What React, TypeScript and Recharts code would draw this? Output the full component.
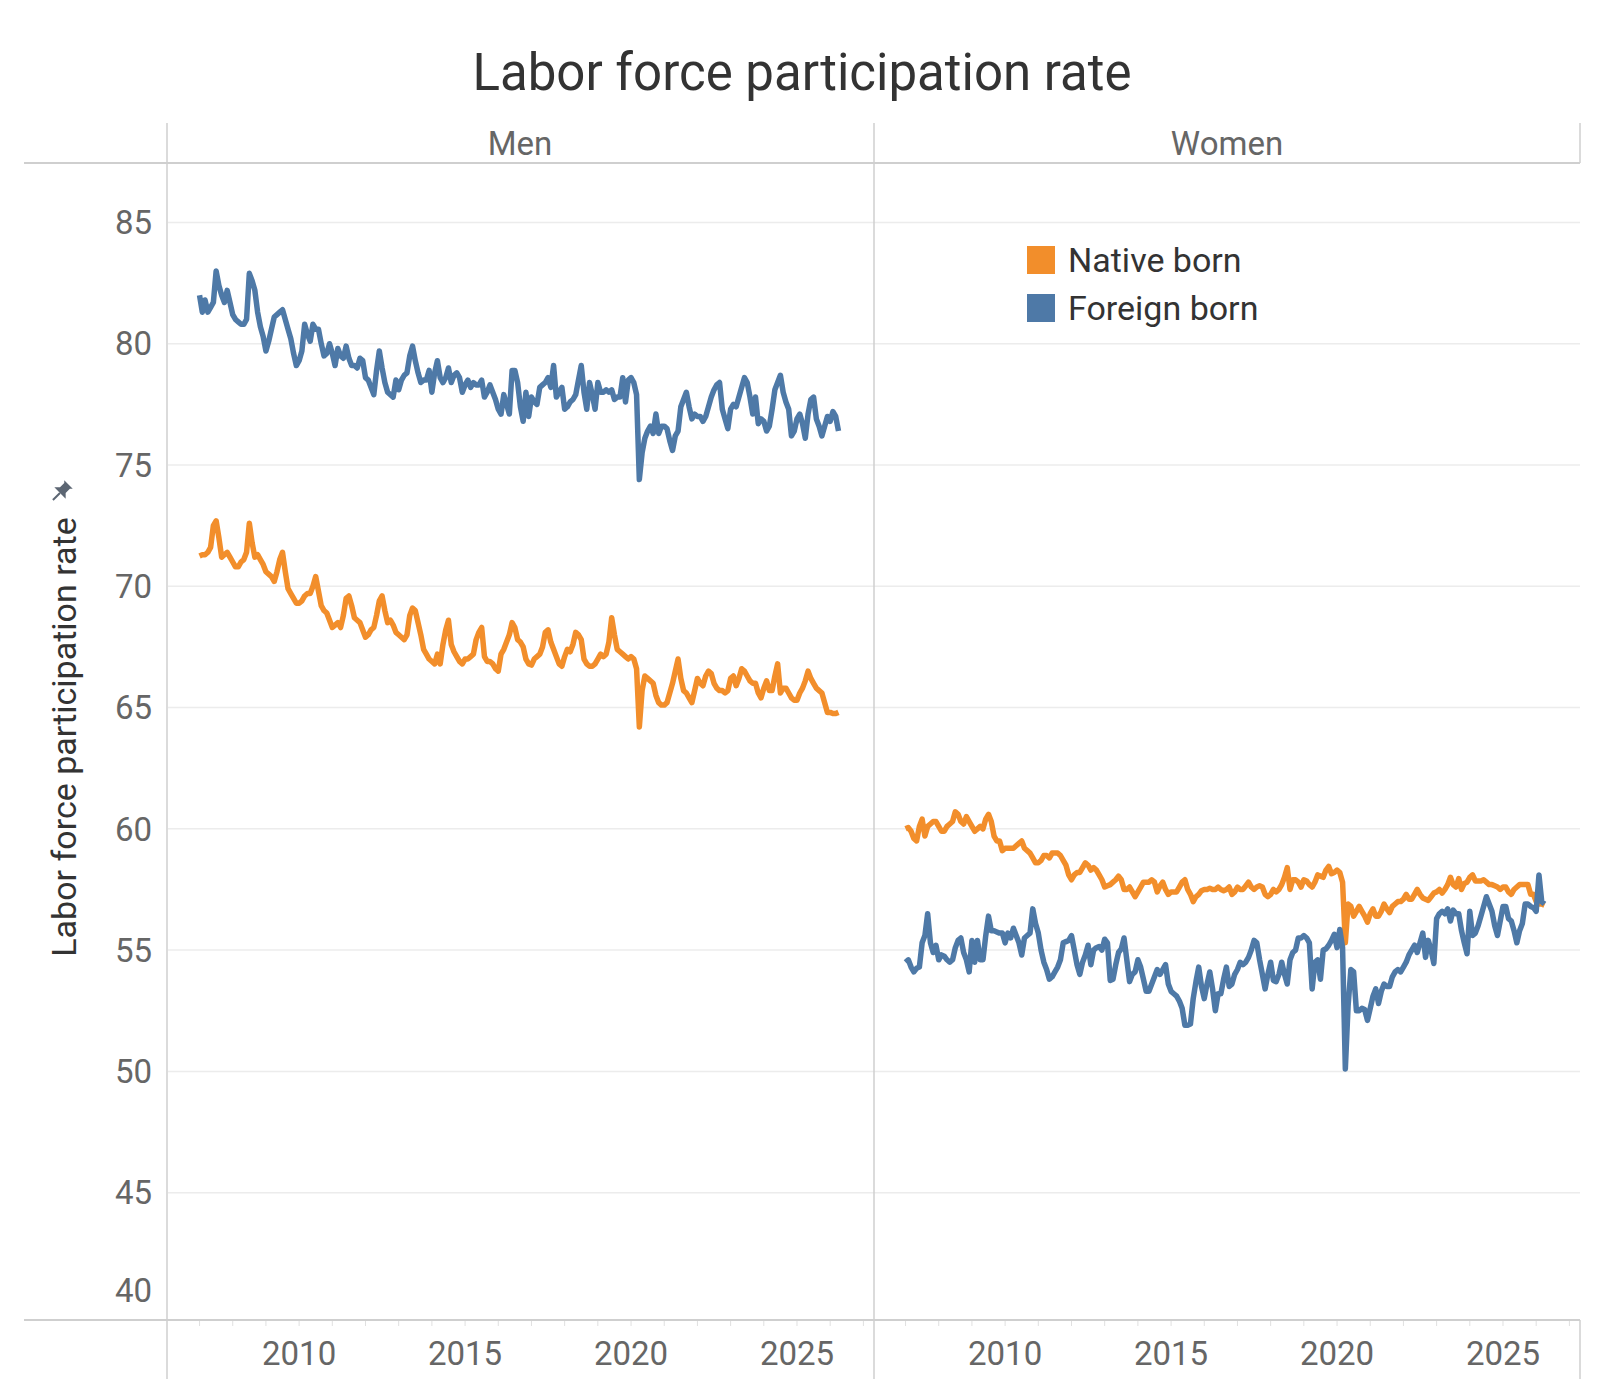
import React from 'react';
import { LineChart, Line, XAxis, YAxis, ReferenceLine } from 'recharts';

// monthly values, Jan 2007 .. Apr 2026
const START_YEAR = 2007;

const menNative = [
  71.25, 71.3, 71.3, 71.4, 71.6, 72.5, 72.7, 72.0, 71.2, 71.3, 71.4, 71.2,
  71.0, 70.8, 70.8, 71.0, 71.1, 71.4, 72.6, 71.8, 71.2, 71.3, 71.1, 70.9,
  70.6, 70.5, 70.4, 70.2, 70.6, 71.1, 71.4, 70.6, 69.9, 69.7, 69.5, 69.3,
  69.3, 69.4, 69.6, 69.7, 69.7, 70.0, 70.4, 69.8, 69.2, 69.0, 68.9, 68.6,
  68.3, 68.4, 68.5, 68.3, 68.8, 69.5, 69.6, 69.2, 68.7, 68.6, 68.5, 68.2,
  67.9, 68.0, 68.2, 68.3, 68.8, 69.4, 69.6, 69.0, 68.5, 68.6, 68.4, 68.1,
  68.0, 67.9, 67.8, 68.0, 68.8, 69.1, 69.0, 68.5, 68.0, 67.4, 67.2, 67.0,
  66.9, 66.8, 67.2, 66.8, 67.6, 68.2, 68.6, 67.6, 67.3, 67.1, 66.9, 66.8,
  67.0, 67.0, 67.1, 67.2, 67.8, 68.1, 68.3, 67.1, 66.9, 66.9, 66.8, 66.6,
  66.5, 67.2, 67.4, 67.7, 68.0, 68.5, 68.3, 67.8, 67.7, 67.5, 67.0, 66.8,
  66.75, 67.0, 67.1, 67.2, 67.5, 68.1, 68.2, 67.7, 67.4, 67.1, 66.8, 66.7,
  67.1, 67.4, 67.3, 67.6, 68.1, 68.0, 67.8, 67.0, 66.8, 66.7, 66.7, 66.8,
  67.0, 67.2, 67.1, 67.2, 67.7, 68.7, 68.0, 67.4, 67.3, 67.2, 67.1, 67.0,
  67.1, 67.0, 66.6, 64.2, 65.7, 66.3, 66.2, 66.1, 66.0, 65.5, 65.2, 65.1,
  65.1, 65.2, 65.6, 66.0, 66.5, 67.0, 66.2, 65.7, 65.6, 65.4, 65.2, 65.7,
  66.2, 66.0, 65.9, 66.3, 66.5, 66.4, 66.0, 65.8, 65.7, 65.7, 65.6, 65.7,
  66.2, 66.3, 65.9, 66.2, 66.6, 66.5, 66.3, 66.1, 66.0, 66.0, 65.6, 65.4,
  65.8, 66.1, 65.7, 65.7, 66.3, 66.8, 65.6, 65.8, 65.8, 65.6, 65.4, 65.3,
  65.3, 65.6, 65.8, 66.1, 66.5, 66.2, 66.0, 65.8, 65.7, 65.6, 65.2, 64.8,
  64.8, 64.75, 64.75, 64.8,
];

const menForeign = [
  82.0, 81.3, 81.8, 81.3, 81.5, 81.7, 83.0, 82.4, 82.0, 81.7, 82.2, 81.7,
  81.2, 81.0, 80.9, 80.8, 80.8, 81.0, 82.9, 82.6, 82.2, 81.3, 80.7, 80.3,
  79.7, 80.1, 80.6, 81.1, 81.2, 81.3, 81.4, 81.0, 80.6, 80.2, 79.6, 79.1,
  79.3, 79.7, 80.8, 80.4, 80.1, 80.8, 80.6, 80.6, 80.0, 79.5, 79.6, 80.0,
  79.6, 79.1, 79.8, 79.5, 79.4, 79.9, 79.4, 79.1, 79.1, 79.0, 79.4, 79.3,
  78.6, 78.5, 78.2, 77.9, 78.9, 79.7, 79.0, 78.4, 78.0, 77.9, 77.8, 78.5,
  78.1, 78.5, 78.7, 78.8, 79.5, 79.9, 79.3, 78.8, 78.4, 78.5, 78.5, 78.9,
  78.0, 78.8, 79.3, 78.6, 78.4, 78.6, 79.0, 78.4, 78.7, 78.8, 78.6, 78.0,
  78.3, 78.5, 78.2, 78.4, 78.3, 78.3, 78.5, 77.8, 78.0, 78.3, 78.0, 77.7,
  77.3, 77.1, 77.9, 77.5, 77.1, 78.9, 78.9, 78.4, 77.4, 76.8, 78.0, 77.0,
  77.8, 77.6, 77.5, 78.2, 78.3, 78.4, 78.6, 78.2, 79.1, 77.8, 78.0, 78.2,
  77.3, 77.4, 77.6, 77.7, 77.9, 78.5, 79.1, 78.0, 77.3, 78.4, 77.9, 77.3,
  78.4, 78.0, 78.0, 78.1, 78.0, 78.1, 77.7, 77.8, 77.8, 78.6, 77.6, 78.5,
  78.6, 78.4, 77.9, 74.4, 75.5, 76.1, 76.4, 76.6, 76.3, 77.1, 76.3, 76.6,
  76.6, 76.5, 76.0, 75.6, 76.2, 76.4, 77.4, 77.7, 78.0, 77.4, 76.9, 77.1,
  77.0, 77.0, 76.8, 77.0, 77.4, 77.8, 78.1, 78.3, 78.4, 77.3, 76.9, 76.5,
  77.3, 77.5, 77.4, 77.8, 78.2, 78.6, 78.4, 77.8, 77.1, 77.8, 76.7, 76.9,
  76.8, 76.4, 76.6, 77.3, 78.1, 78.4, 78.7, 78.0, 77.6, 77.3, 76.2, 76.4,
  76.9, 77.1, 76.7, 76.1, 77.1, 77.7, 77.8, 76.9, 76.6, 76.2, 76.6, 77.0,
  76.8, 77.2, 77.0, 76.4,
];

const womenNative = [
  60.0, 60.05, 59.9, 59.6, 59.5, 60.1, 60.4, 59.7, 60.1, 60.2, 60.3, 60.3,
  60.1, 59.9, 59.9, 60.1, 60.2, 60.3, 60.7, 60.6, 60.3, 60.2, 60.5, 60.3,
  60.1, 59.9, 60.0, 60.1, 60.0, 60.4, 60.6, 60.3, 59.7, 59.5, 59.5, 59.1,
  59.2, 59.2, 59.2, 59.2, 59.3, 59.4, 59.5, 59.2, 59.1, 59.0, 58.8, 58.6,
  58.6, 58.7, 58.9, 58.9, 58.8, 59.0, 59.0, 59.0, 58.9, 58.7, 58.5, 58.1,
  57.9, 58.1, 58.2, 58.2, 58.4, 58.6, 58.5, 58.3, 58.4, 58.3, 58.1, 57.9,
  57.6, 57.65, 57.7, 57.8, 57.9, 58.05, 57.9, 57.5, 57.5, 57.6, 57.4, 57.2,
  57.4, 57.6, 57.8, 57.8, 57.8, 57.9, 57.8, 57.4, 57.65, 57.8, 57.5, 57.3,
  57.4, 57.4, 57.4, 57.6, 57.8, 57.9, 57.5, 57.3, 57.0, 57.2, 57.3, 57.45,
  57.5, 57.5, 57.55, 57.5, 57.5, 57.6, 57.5, 57.45, 57.5, 57.6, 57.3, 57.4,
  57.6, 57.5, 57.5, 57.65, 57.8, 57.6, 57.5, 57.6, 57.65, 57.6, 57.3, 57.2,
  57.3, 57.5, 57.4, 57.5, 57.7, 58.0, 58.4, 57.5, 57.9, 57.9, 57.8, 57.6,
  57.9, 57.85, 57.7, 57.6, 57.8, 58.1, 58.05, 58.0, 58.3, 58.45, 58.15, 58.2,
  58.3, 58.2, 57.8, 55.3, 56.9, 56.8, 56.4, 56.6, 56.8, 56.6, 56.4, 56.15,
  56.5, 56.7, 56.4, 56.4, 56.6, 56.9, 56.7, 56.55, 56.8, 56.9, 57.0, 57.0,
  57.1, 57.3, 57.1, 57.1, 57.3, 57.5, 57.3, 57.15, 57.1, 57.05, 57.2, 57.35,
  57.4, 57.5, 57.35, 57.5, 57.7, 58.0, 57.7, 57.6, 57.95, 57.5, 57.75, 57.8,
  58.0, 58.1, 57.85, 57.85, 57.85, 57.9, 57.8, 57.7, 57.7, 57.65, 57.6, 57.5,
  57.6, 57.6, 57.4, 57.3, 57.5, 57.6, 57.7, 57.7, 57.7, 57.7, 57.3, 57.3,
  57.0, 56.9, 56.9, 56.85,
];

const womenForeign = [
  54.5, 54.6, 54.3, 54.1, 54.25, 54.3, 55.3, 55.6, 56.5, 55.3, 54.9, 55.2,
  54.6, 54.8, 54.75, 54.6, 54.5, 54.6, 55.1, 55.4, 55.5, 54.9, 54.6, 54.1,
  55.4, 54.5, 55.4, 54.6, 54.6, 55.6, 56.4, 55.8, 55.8, 55.75, 55.7, 55.7,
  55.3, 55.7, 55.5, 55.9, 55.6, 55.3, 54.8, 55.5, 55.6, 55.7, 56.7, 56.1,
  55.7, 55.0, 54.5, 54.2, 53.8, 53.9, 54.1, 54.3, 54.6, 55.3, 55.35, 55.4,
  55.6, 55.0, 54.4, 54.0, 54.5, 54.8, 55.2, 54.4, 55.0, 55.1, 55.15, 55.0,
  55.45, 55.3, 53.75, 53.8, 54.4, 54.9, 55.05, 55.5, 54.6, 53.7, 54.0, 54.1,
  54.6, 54.3, 53.8, 53.3, 53.3, 53.6, 53.9, 54.2, 54.0, 54.2, 54.4, 53.6,
  53.3, 53.2, 53.1, 52.9, 52.6, 51.9, 51.9, 51.95, 53.0, 53.7, 54.3, 53.5,
  53.0, 53.6, 54.1, 53.4, 52.5, 53.2, 53.2, 53.8, 54.3, 53.5, 53.6, 54.0,
  54.2, 54.5, 54.4, 54.5, 54.7, 55.0, 55.4, 55.3, 54.6, 54.0, 53.4, 54.0,
  54.5, 53.75, 53.7, 54.0, 54.5, 54.0, 53.6, 54.6, 54.9, 55.0, 55.5, 55.5,
  55.6, 55.5, 55.3, 53.4, 54.5, 54.6, 53.8, 55.0, 55.05, 55.2, 55.4, 55.65,
  55.1, 55.85, 55.1, 50.1, 52.7, 54.2, 54.1, 52.5, 52.5, 52.6, 52.55, 52.1,
  52.6, 53.1, 53.4, 52.8, 53.3, 53.6, 53.5, 53.5, 53.9, 54.1, 54.2, 54.1,
  54.3, 54.5, 54.8, 55.0, 55.2, 54.9, 55.3, 55.7, 54.7, 55.4, 55.0, 54.45,
  56.3, 56.5, 56.6, 56.5, 56.7, 56.2, 56.65, 56.5, 56.5, 55.8, 55.3, 54.85,
  56.6, 55.6, 55.7, 56.0, 56.4, 56.8, 57.2, 56.9, 56.6, 56.0, 55.6, 56.2,
  56.8, 56.8, 56.3, 56.2, 55.8, 55.3, 55.8, 56.1, 56.9, 56.9, 56.8, 56.75,
  56.6, 58.1, 57.0, 56.9,
];

const yTicks = [40, 45, 50, 55, 60, 65, 70, 75, 80, 85];
const gridValues = [45, 50, 55, 60, 65, 70, 75, 80, 85];
const yearTicks = [
  2007, 2008, 2009, 2010, 2011, 2012, 2013, 2014, 2015, 2016, 2017,
  2018, 2019, 2020, 2021, 2022, 2023, 2024, 2025, 2026, 2027,
];
const labelYears = [2010, 2015, 2020, 2025];

const NATIVE = '#F28E2B';
const FOREIGN = '#4E79A7';
const FONT = 'Roboto, "Noto Sans", sans-serif';
const Y_DOMAIN = [39.75, 87.45];
const X_DOMAIN = [2006.05, 2027.32];

const toRows = (native: number[], foreign: number[]) =>
  native.map((v, i) => ({ t: START_YEAR + i / 12, native: v, foreign: foreign[i] }));

const menRows = toRows(menNative, menForeign);
const womenRows = toRows(womenNative, womenForeign);

const XTick = (props: any) => {
  const { x, y, payload } = props;
  if (!labelYears.includes(payload.value)) return <g />;
  return (
    <text x={x} y={y} dy="0.71em" textAnchor="middle" fill="#666" fontSize={33} fontFamily={FONT}>
      {payload.value}
    </text>
  );
};

// tableau nudges the bottom label up so it stays inside the pane
const YTick = (props: any) => {
  const { x, y, payload } = props;
  return (
    <text x={x} y={payload.value === 40 ? y - 24 : y} dy="0.355em" textAnchor="end" fill="#666" fontSize={33} fontFamily={FONT}>
      {payload.value}
    </text>
  );
};

function Panel({ rows, left, width, showY }: { rows: any[]; left: number; width: number; showY: boolean }) {
  return (
    <div style={{ position: 'absolute', left, top: 0 }}>
      <LineChart width={width} height={1400} data={rows} margin={{ top: 163, right: 0, bottom: 0, left: 0 }}>
        <XAxis
          dataKey="t" type="number" domain={X_DOMAIN} allowDataOverflow ticks={yearTicks} interval={0}
          height={80} axisLine={false} tickLine={{ stroke: '#e0e0e0' }} tickSize={6} tickMargin={16} tick={<XTick />}
        />
        <YAxis
          type="number" domain={Y_DOMAIN} allowDataOverflow ticks={yTicks} interval={0} hide={!showY}
          width={showY ? 168 : 0} axisLine={false} tickLine={false} tickSize={0} tickMargin={16} tick={<YTick />}
        />
        {gridValues.map(v => (
          <ReferenceLine key={v} y={v} stroke="#ececec" strokeWidth={1.5} />
        ))}
        <Line type="linear" dataKey="native" stroke={NATIVE} strokeWidth={5.5} dot={false} isAnimationActive={false} strokeLinejoin="round" />
        <Line type="linear" dataKey="foreign" stroke={FOREIGN} strokeWidth={5.5} dot={false} isAnimationActive={false} strokeLinejoin="round" />
      </LineChart>
    </div>
  );
}

export default function App() {
  const line = '#cfcfcf';
  return (
    <div style={{ position: 'absolute', left: 0, top: 0, width: 1600, height: 1400, background: '#fff', fontFamily: FONT }}>
      <Panel rows={menRows} left={0} width={874} showY />
      <Panel rows={womenRows} left={874} width={706} showY={false} />

      <svg width={1600} height={1400} style={{ position: 'absolute', left: 0, top: 0, pointerEvents: 'none' }}>
        <text x={802} y={90} textAnchor="middle" fontSize={51} fill="#333" fontFamily={FONT}>
          Labor force participation rate
        </text>
        <text x={520} y={155} textAnchor="middle" fontSize={33} fill="#666" fontFamily={FONT}>Men</text>
        <text x={1227} y={155} textAnchor="middle" fontSize={33} fill="#666" fontFamily={FONT}>Women</text>

        {/* pane frame */}
        <line x1={24} x2={1580} y1={163} y2={163} stroke={line} strokeWidth={2} />
        <line x1={24} x2={1580} y1={1320} y2={1320} stroke={line} strokeWidth={2} />
        <line x1={167} x2={167} y1={123} y2={1379} stroke={line} strokeWidth={1.5} />
        <line x1={874} x2={874} y1={123} y2={1379} stroke={line} strokeWidth={1.5} />
        <line x1={1580} x2={1580} y1={123} y2={163} stroke={line} strokeWidth={1.5} />
        <line x1={1580} x2={1580} y1={1320} y2={1379} stroke={line} strokeWidth={1.5} />

        {/* axis title + pin */}
        <text transform="translate(63.5,737) rotate(-90)" dy="0.36em" textAnchor="middle" fontSize={34} fill="#333" fontFamily={FONT}>
          Labor force participation rate
        </text>
        <g transform="translate(60,493) rotate(45)" fill="#5c6673">
          <polygon points="-6,-12 6,-12 4,-10 4,-4 8,0 -8,0 -4,-4 -4,-10" />
          <rect x={-1} y={0} width={2} height={10} />
        </g>

        {/* legend */}
        <rect x={1027} y={246} width={28} height={28} fill={NATIVE} />
        <rect x={1027} y={294} width={28} height={28} fill={FOREIGN} />
        <text x={1068} y={272} fontSize={34} fill="#333" fontFamily={FONT}>Native born</text>
        <text x={1068} y={320} fontSize={34} fill="#333" fontFamily={FONT}>Foreign born</text>
      </svg>
    </div>
  );
}
